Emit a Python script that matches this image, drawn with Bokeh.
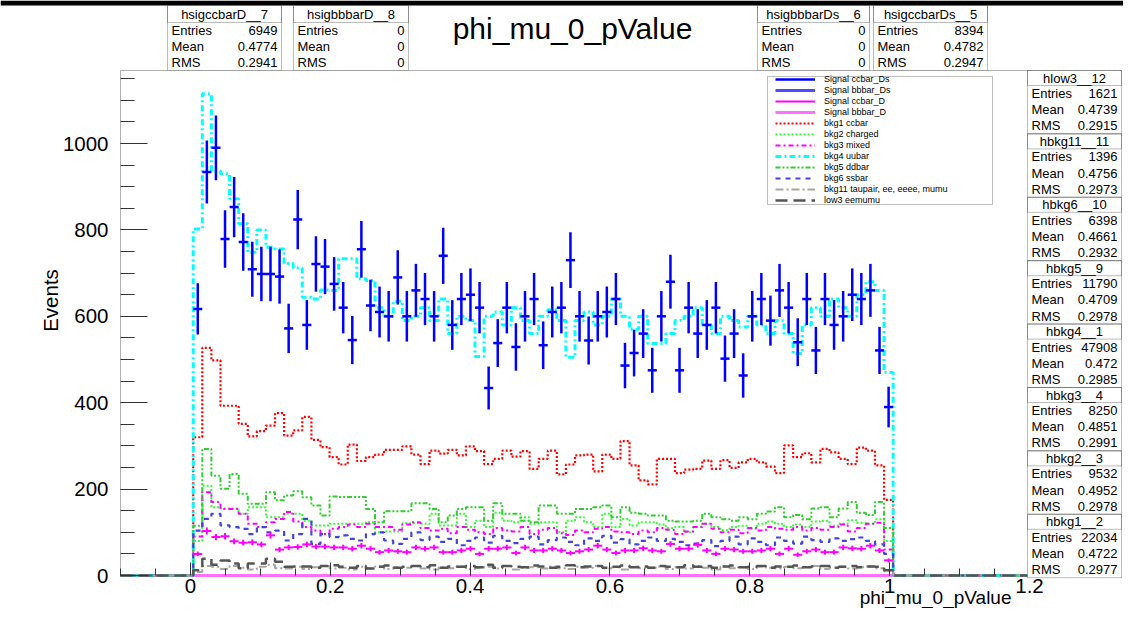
import numpy as np
from bokeh.plotting import figure
from bokeh.models import (Range1d, FixedTicker, PrintfTickFormatter, Label,
                          BoxAnnotation, Legend, LegendItem)
from bokeh.embed import file_html
from bokeh.resources import INLINE

# ---------------- histogram definition ----------------
X_LO, X_HI, N_BINS = -0.1, 1.2, 100
Y_TOP = 1169
FIRST_FILLED = 8          # index of first filled bin (0.004 - 0.017)

# ---------------- data (filled bins 8..84) ----------------
sig_ccbar_ds = [617, 934, 990, 779, 853, 772, 709, 698, 698, 692,
                572, 824, 580, 721, 715, 675, 620, 545, 755, 625,
                610, 600, 690, 600, 660, 640, 600, 740, 580, 640,
                650, 620, 434, 538, 620, 529, 600, 640, 533, 610,
                620, 730, 600, 544, 600, 610, 640, 486, 515, 560,
                475, 600, 680, 475, 620, 560, 580, 620, 502, 560,
                463, 600, 640, 590, 660, 620, 540, 640, 521, 640,
                580, 600, 650, 640, 660, 521, 390]
sig_ccbar_d = [50, 103, 89, 91, 79, 76, 77, 72, 93, 60,
               65, 66, 72, 67, 67, 65, 65, 62, 69, 62,
               54, 58, 56, 54, 65, 62, 65, 54, 54, 58,
               62, 50, 62, 62, 65, 52, 65, 58, 58, 62,
               58, 52, 56, 60, 69, 60, 52, 58, 58, 63,
               58, 56, 73, 62, 62, 71, 58, 50, 62, 60,
               56, 56, 58, 62, 50, 62, 48, 56, 60, 54,
               54, 65, 63, 62, 69, 58, 35]
bkg1_ccbar = [320, 527, 498, 393, 393, 351, 322, 334, 347, 376,
              324, 336, 367, 314, 297, 274, 257, 303, 265, 274,
              280, 291, 291, 299, 280, 258, 289, 282, 291, 278,
              299, 288, 258, 270, 289, 275, 288, 247, 270, 289,
              234, 257, 278, 280, 241, 280, 270, 311, 255, 220,
              211, 270, 270, 237, 245, 247, 266, 247, 267, 249,
              262, 270, 262, 252, 237, 301, 274, 283, 262, 293,
              285, 270, 258, 296, 289, 255, 175]
bkg2_charged = [80, 208, 158, 155, 155, 143, 158, 158, 135, 135,
                143, 143, 127, 116, 116, 120, 120, 120, 120, 123,
                100, 102, 102, 121, 121, 120, 143, 116, 116, 143,
                112, 127, 112, 145, 127, 123, 135, 120, 123, 123,
                100, 127, 135, 123, 112, 143, 112, 131, 116, 123,
                123, 118, 110, 112, 100, 112, 120, 112, 105, 112,
                115, 108, 120, 125, 120, 112, 118, 112, 125, 127,
                115, 120, 128, 122, 120, 130, 80]
bkg3_mixed = [90, 193, 170, 154, 154, 143, 120, 112, 123, 131,
              147, 125, 112, 104, 96, 108, 112, 118, 112, 120,
              112, 112, 106, 118, 123, 110, 104, 108, 98, 112,
              106, 100, 96, 110, 104, 102, 112, 96, 106, 110,
              98, 94, 104, 100, 108, 112, 102, 100, 96, 104,
              100, 110, 106, 96, 102, 112, 120, 108, 100, 106,
              98, 110, 104, 112, 108, 106, 112, 104, 110, 106,
              112, 118, 102, 110, 120, 122, 60]
bkg4_uubar = [802, 1115, 936, 930, 872, 814, 748, 800, 760, 756,
              722, 712, 644, 640, 661, 660, 733, 733, 687, 683,
              620, 600, 635, 590, 600, 620, 590, 640, 560, 600,
              590, 507, 600, 610, 580, 620, 590, 560, 600, 615,
              590, 505, 590, 610, 580, 600, 640, 600, 570, 600,
              537, 537, 560, 590, 600, 620, 580, 560, 600, 590,
              575, 600, 580, 560, 590, 560, 514, 580, 620, 600,
              640, 620, 600, 650, 680, 660, 470]
bkg5_ddbar = [115, 293, 231, 201, 235, 189, 166, 166, 193, 174,
              185, 195, 181, 162, 139, 183, 182, 182, 182, 154,
              123, 149, 149, 149, 167, 167, 154, 123, 139, 154,
              158, 158, 127, 167, 143, 143, 127, 123, 162, 162,
              143, 143, 154, 154, 158, 162, 135, 158, 145, 143,
              139, 139, 127, 125, 125, 127, 143, 135, 130, 127,
              135, 130, 143, 148, 158, 135, 140, 130, 155, 158,
              135, 155, 170, 145, 140, 170, 110]
bkg6_ssbar = [104, 131, 143, 116, 112, 108, 96, 112, 100, 104,
              81, 96, 131, 73, 96, 89, 93, 85, 81, 96,
              100, 81, 73, 85, 100, 82, 90, 78, 85, 70,
              80, 88, 76, 92, 80, 75, 85, 90, 72, 82,
              88, 78, 70, 86, 80, 92, 76, 84, 72, 80,
              88, 80, 85, 78, 70, 74, 82, 68, 80, 90,
              72, 86, 78, 70, 88, 80, 74, 90, 82, 78,
              86, 80, 84, 88, 80, 72, 50]
bkg11_taupair = [8, 22, 20, 15, 22, 18, 14, 20, 25, 17,
                 16, 20, 15, 19, 22, 16, 18, 14, 20, 17,
                 21, 15, 19, 18, 22, 16, 14, 19, 17, 21,
                 15, 18, 20, 16, 22, 14, 18, 19, 16, 21,
                 17, 15, 20, 18, 22, 16, 19, 14, 20, 17,
                 18, 21, 15, 19, 16, 22, 18, 14, 20, 17,
                 19, 15, 21, 18, 16, 20, 17, 19, 22, 15,
                 18, 20, 16, 19, 21, 17, 10]
low3_eemumu = [12, 39, 25, 35, 28, 17, 28, 28, 39, 32,
               20, 21, 21, 18, 22, 24, 20, 18, 22, 16,
               20, 23, 18, 20, 22, 19, 24, 18, 21, 20,
               22, 19, 25, 18, 22, 20, 19, 23, 21, 18,
               20, 24, 19, 21, 22, 18, 20, 23, 19, 21,
               18, 22, 20, 19, 24, 20, 22, 18, 21, 23,
               19, 20, 22, 18, 21, 20, 23, 19, 21, 22,
               18, 20, 22, 19, 21, 20, 12]
sig_bbbar_ds = []   # 0 entries
sig_bbbar_d = []    # 0 entries

SIG_DS_WEIGHT = 5.7   # event weight of the Ds signal sample (sets error bars)
SIG_D_WEIGHT = 0.6

x_ticks = [0, 0.2, 0.4, 0.6, 0.8, 1.0, 1.2]
y_ticks = [0, 200, 400, 600, 800, 1000]

stats_top = [("hsigccbarD__7", "6949", "0.4774", "0.2941"),
             ("hsigbbbarD__8", "0", "0", "0"),
             ("hsigbbbarDs__6", "0", "0", "0"),
             ("hsigccbarDs__5", "8394", "0.4782", "0.2947")]
stats_right = [("hlow3__12", "1621", "0.4739", "0.2915"),
               ("hbkg11__11", "1396", "0.4756", "0.2973"),
               ("hbkg6__10", "6398", "0.4661", "0.2932"),
               ("hbkg5__9", "11790", "0.4709", "0.2978"),
               ("hbkg4__1", "47908", "0.472", "0.2985"),
               ("hbkg3__4", "8250", "0.4851", "0.2991"),
               ("hbkg2__3", "9532", "0.4952", "0.2978"),
               ("hbkg1__2", "22034", "0.4722", "0.2977")]

# ---------------- layout (canvas pixels) ----------------
W, H = 1123, 608
FR_L, FR_R, FR_T, FR_B = 120, 1029, 70, 575     # ROOT frame on the canvas
xpp = (X_HI - X_LO) / (FR_R - FR_L)
ypp = Y_TOP / (FR_B - FR_T)
x_range = Range1d(X_LO - FR_L * xpp, X_LO + (W - FR_L) * xpp)
y_range = Range1d(-(H - FR_B) * ypp, FR_B * ypp)

edges = np.linspace(X_LO, X_HI, N_BINS + 1)
centers = 0.5 * (edges[:-1] + edges[1:])


def full(vals):
    arr = np.zeros(N_BINS)
    arr[FIRST_FILLED:FIRST_FILLED + len(vals)] = vals
    return arr


FONT = "Liberation Sans"


def sx(X):
    return X


def sy(Y):
    return H - Y


p = figure(width=W, height=H, x_range=x_range, y_range=y_range, title=None,
           output_backend="svg", toolbar_location=None,
           min_border_left=0, min_border_right=0, min_border_top=0, min_border_bottom=0)
p.xgrid.visible = False
p.ygrid.visible = False
p.outline_line_color = None
p.background_fill_color = "white"
p.border_fill_color = "white"

minor_x = [round(v, 2) for v in np.arange(-0.1, 1.2001, 0.05)]
minor_y = list(range(0, Y_TOP, 50))
p.xaxis.fixed_location = 0
p.yaxis.fixed_location = X_LO
p.xaxis.ticker = FixedTicker(ticks=x_ticks, minor_ticks=minor_x)
p.yaxis.ticker = FixedTicker(ticks=y_ticks, minor_ticks=minor_y)
p.xaxis.formatter = PrintfTickFormatter(format="%.3g")
for ax, maj, mnr, stand in ((p.xaxis, 13, 7, 3), (p.yaxis, 27, 14, 12)):
    ax.major_tick_in = maj
    ax.major_tick_out = 0
    ax.minor_tick_in = mnr
    ax.minor_tick_out = 0
    ax.major_label_standoff = stand
    ax.major_label_text_font = FONT
    ax.major_label_text_font_size = "20.5px"
    ax.major_label_text_color = "black"
    ax.axis_line_color = None
    ax.major_tick_line_color = "#333333"
    ax.minor_tick_line_color = "#333333"

# ROOT frame
p.add_layout(BoxAnnotation(left=X_LO, right=X_HI, bottom=0, top=Y_TOP, fill_alpha=0,
                           line_color="black", line_width=1, level="underlay"))
# top canvas bar
p.add_layout(BoxAnnotation(left=sx(0), right=sx(W), top=sy(0), bottom=sy(5),
                           left_units="screen", right_units="screen", top_units="screen",
                           bottom_units="screen", fill_color="black", fill_alpha=1,
                           line_alpha=0, level="overlay"))

step_y = lambda arr: np.append(arr, arr[-1])

# empty signal histograms (drawn first, underneath)
r_bb_ds = p.step(edges, step_y(full(sig_bbbar_ds)), mode="after", line_color="#4b4bff", line_width=3)
r_bb_d = p.step(edges, step_y(full(sig_bbbar_d)), mode="after", line_color="#ff70ff", line_width=3)

bkg_specs = [
    ("bkg1 ccbar", bkg1_ccbar, "#ff0000", "2 2", 2.2),
    ("bkg2 charged", bkg2_charged, "#33ff33", "2 2", 2),
    ("bkg3 mixed", bkg3_mixed, "#ff00ff", "5 3 2 3", 2),
    ("bkg4 uubar", bkg4_uubar, "#00ffff", "6 3 2 3", 3),
    ("bkg5 ddbar", bkg5_ddbar, "#33cc33", "5 2 2 2 2 2", 2),
    ("bkg6 ssbar", bkg6_ssbar, "#4444dd", "5 5", 2.2),
    ("bkg11 taupair, ee, eeee, mumu", bkg11_taupair, "#aaa59f", "8 3 2 3", 2),
    ("low3 eemumu", low3_eemumu, "#555555", "12 6", 2.5),
]
bkg_renderers = []
for name, vals, col, dash, lw in bkg_specs:
    r = p.step(edges, step_y(full(vals)), mode="after", line_color=col,
               line_dash=dash, line_width=lw)
    bkg_renderers.append((name, r))


def crosses(vals, weight, color, lw):
    v = np.asarray(vals, dtype=float)
    idx = np.arange(FIRST_FILLED, FIRST_FILLED + len(v))
    err = np.sqrt(weight * v)
    rh = p.segment(x0=edges[idx], y0=v, x1=edges[idx + 1], y1=v, line_color=color, line_width=lw)
    p.segment(x0=centers[idx], y0=v - err, x1=centers[idx], y1=v + err, line_color=color, line_width=lw)
    return rh


r_d = crosses(sig_ccbar_d, SIG_D_WEIGHT, "#ff00ff", 2)
r_ds = crosses(sig_ccbar_ds, SIG_DS_WEIGHT, "#0000ff", 2.5)

# ---------------- legend ----------------
p.add_layout(BoxAnnotation(left=sx(767), right=sx(992), top=sy(76), bottom=sy(204),
                           left_units="screen", right_units="screen", top_units="screen",
                           bottom_units="screen", fill_color="white", fill_alpha=1,
                           line_color="#222222", line_width=1, level="annotation"))
items = [LegendItem(label="Signal ccbar_Ds", renderers=[r_ds]),
         LegendItem(label="Signal bbbar_Ds", renderers=[r_bb_ds]),
         LegendItem(label="Signal ccbar_D", renderers=[r_d]),
         LegendItem(label="Signal bbbar_D", renderers=[r_bb_d])]
items += [LegendItem(label=n, renderers=[r]) for n, r in bkg_renderers]
legend = Legend(items=items, location=(sx(775), sy(205)),
                label_text_font=FONT, label_text_font_size="9px", label_text_color="black",
                glyph_width=40, glyph_height=10, label_height=10, label_standoff=9,
                spacing=1, padding=0, margin=0, border_line_alpha=0, background_fill_alpha=0)
p.add_layout(legend)


# ---------------- stat boxes ----------------
def stat_box(left, right, top, title, vals, title_h, row_h, fs):
    bottom = top + title_h + 3 * row_h
    kw = dict(left_units="screen", right_units="screen", top_units="screen",
              bottom_units="screen", fill_color="white", fill_alpha=1,
              line_color="#222222", line_width=1, level="overlay")
    p.add_layout(BoxAnnotation(left=sx(left), right=sx(right), top=sy(top), bottom=sy(bottom), **kw))
    kw2 = dict(kw)
    kw2["fill_alpha"] = 0
    p.add_layout(BoxAnnotation(left=sx(left), right=sx(right), top=sy(top),
                               bottom=sy(top + title_h), **kw2))
    lk = dict(x_units="screen", y_units="screen", text_font=FONT, text_font_size=fs,
              text_color="black", text_baseline="middle", level="overlay")
    p.add_layout(Label(x=sx((left + right) / 2), y=sy(top + title_h / 2), text=title,
                       text_align="center", **lk))
    for k, (nm, val) in enumerate(zip(("Entries", "Mean", "RMS"), vals)):
        yc = top + title_h + row_h * (k + 0.5)
        p.add_layout(Label(x=sx(left + 4), y=sy(yc), text=nm, text_align="left", **lk))
        p.add_layout(Label(x=sx(right - 4), y=sy(yc), text=val, text_align="right", **lk))


top_pos = [(167, 281), (293, 408), (757, 869), (873, 987)]
for (l, r), (t, e, m, s) in zip(top_pos, stats_top):
    stat_box(l, r, 5, t, (e, m, s), 17, 16, "13px")
for j, (t, e, m, s) in enumerate(stats_right):
    stat_box(1027, 1121, 70 + 63.4 * j, t, (e, m, s), 15, 16.13, "13px")

# ---------------- titles ----------------
p.add_layout(Label(x=sx(572), y=sy(28), x_units="screen", y_units="screen",
                   text="phi_mu_0_pValue", text_font=FONT, text_font_size="30px",
                   text_align="center", text_baseline="middle", text_color="black"))
p.add_layout(Label(x=sx(1011), y=sy(607), x_units="screen", y_units="screen",
                   text="phi_mu_0_pValue", text_font=FONT, text_font_size="19px",
                   text_align="right", text_baseline="bottom", text_color="black"))
p.add_layout(Label(x=sx(50), y=sy(300), x_units="screen", y_units="screen",
                   text="Events", text_font=FONT, text_font_size="20.5px", angle=np.pi / 2,
                   text_align="center", text_baseline="middle", text_color="black"))

open("out.html", "w").write(file_html(p, INLINE))
